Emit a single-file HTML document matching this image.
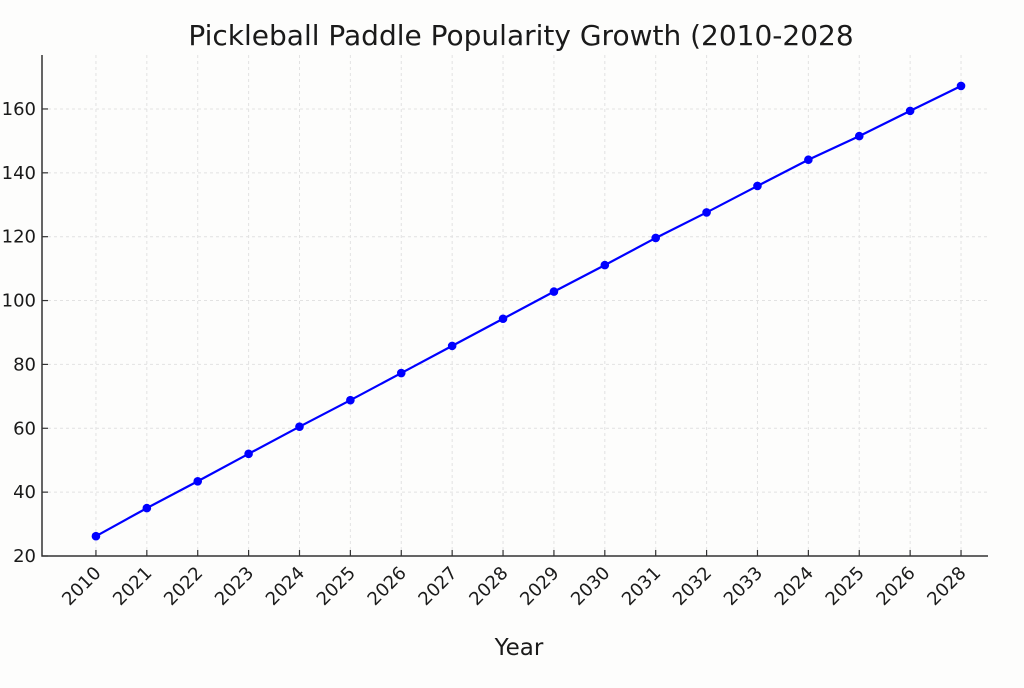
<!DOCTYPE html>
<html><head><meta charset="utf-8"><style>
body{margin:0;background:#fdfdfc;}
svg text{font-family:"DejaVu Sans","Liberation Sans",sans-serif;fill:#1a1a1a;}
</style></head><body>
<svg id="chart" width="1024" height="683" xmlns="http://www.w3.org/2000/svg">
<rect width="1024" height="683" fill="#fdfdfc"/>
<text x="521" y="45" font-size="28" text-anchor="middle">Pickleball Paddle Popularity Growth (2010-2028</text>
<g id="grid"></g><g id="axes"></g><g id="series"></g>
<text x="519" y="655" font-size="23" text-anchor="middle">Year</text>
</svg>
<script>
const categories=["2010","2021","2022","2023","2024","2025","2026","2027","2028","2029","2030","2031","2032","2033","2024","2025","2026","2028"];
const values=[26.2,35.0,43.4,52.0,60.5,68.8,77.3,85.8,94.3,102.8,111.1,119.6,127.6,135.9,144.1,151.5,159.4,167.2];
const yTicks=[20,40,60,80,100,120,140,160];
const L=42,R=988,T=55,B=556,yMin=20,yMax=176.9,xMin=-1.06,xMax=17.53;
const NS="http://www.w3.org/2000/svg";
const sx=i=>L+(i-xMin)/(xMax-xMin)*(R-L);
const sy=v=>B-(v-yMin)/(yMax-yMin)*(B-T);
function mk(tag,attrs,parent){const e=document.createElementNS(NS,tag);for(const k in attrs)e.setAttribute(k,attrs[k]);document.getElementById(parent).appendChild(e);return e;}
yTicks.forEach(v=>{
 const g=mk('line',{x1:L,x2:R,y1:sy(v),y2:sy(v),stroke:'#e2e2e2','stroke-dasharray':'3,3','stroke-width':1},'grid');
 
 
 const t=mk('line',{x1:L,x2:L+6,y1:sy(v),y2:sy(v),stroke:'#333','stroke-width':1.2},'axes');
 
 
 const lb=mk('text',{x:L-6,y:sy(v)+6,'font-size':18,'text-anchor':'end'},'axes');
 lb.textContent=v;
 
 
});
categories.forEach((c,i)=>{
 const x=sx(i);
 const g=mk('line',{x1:x,x2:x,y1:T,y2:B,stroke:'#e2e2e2','stroke-dasharray':'3,3','stroke-width':1},'grid');
 
 
 const t=mk('line',{x1:x,x2:x,y1:B,y2:B-6,stroke:'#333','stroke-width':1.2},'axes');
 
 
 const lb=mk('text',{x:x+6,y:B+18,'font-size':18,'text-anchor':'end',transform:`rotate(-45 ${x+6} ${B+18})`},'axes');
 lb.textContent=c;
 
 
});
const ax=mk('path',{d:`M${L},${T}V${B}H${R}`,fill:'none',stroke:'#333','stroke-width':1.5},'axes');


const ln=mk('polyline',{points:values.map((v,i)=>sx(i)+','+sy(v)).join(' '),fill:'none',stroke:'#0000ff','stroke-width':2.2},'series');


values.forEach((v,i)=>{
 const p=mk('circle',{cx:sx(i),cy:sy(v),r:4.3,fill:'#0000ff'},'series');
 
 
});
</script>
</body></html>
